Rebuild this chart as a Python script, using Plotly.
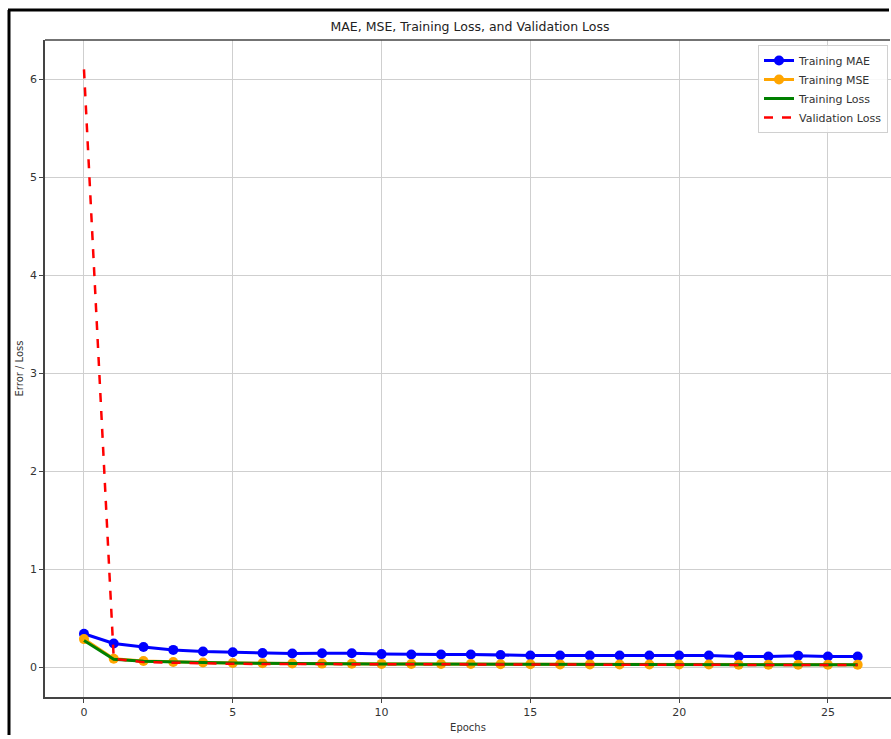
import plotly.graph_objects as go

epochs = list(range(27))
train_mae = [0.34, 0.24, 0.205, 0.175, 0.158, 0.15, 0.142, 0.138, 0.14, 0.14, 0.132, 0.128, 0.128,
             0.128, 0.122, 0.118, 0.118, 0.118, 0.118, 0.118, 0.118, 0.118, 0.108, 0.108, 0.116, 0.108, 0.108]
train_mse = [0.285, 0.085, 0.062, 0.052, 0.046, 0.041, 0.038, 0.036, 0.035, 0.034, 0.032, 0.031, 0.030,
             0.030, 0.029, 0.028, 0.027, 0.027, 0.026, 0.026, 0.025, 0.025, 0.024, 0.024, 0.024, 0.023, 0.023]
train_loss = [0.27, 0.08, 0.06, 0.05, 0.045, 0.04, 0.037, 0.035, 0.034, 0.033, 0.031, 0.030, 0.029,
              0.029, 0.028, 0.027, 0.026, 0.026, 0.025, 0.025, 0.024, 0.024, 0.023, 0.023, 0.023, 0.022, 0.022]
val_loss = [6.1, 0.085, 0.05, 0.042, 0.036, 0.033, 0.031, 0.03, 0.029, 0.028, 0.027, 0.026, 0.026,
            0.025, 0.025, 0.024, 0.024, 0.023, 0.023, 0.022, 0.022, 0.022, 0.021, 0.021, 0.021, 0.02, 0.02]

W, H = 891, 735
L, R, T, B = 45, 0, 40, 38
FONT = "DejaVu Sans"

fig = go.Figure()
fig.add_trace(go.Scatter(x=epochs, y=train_mae, name="Training MAE", mode="lines+markers",
                         line=dict(color="#0000ff", width=3), marker=dict(symbol="circle", size=10, color="#0000ff")))
fig.add_trace(go.Scatter(x=epochs, y=train_mse, name="Training MSE", mode="lines+markers",
                         line=dict(color="#ffa500", width=3), marker=dict(symbol="circle", size=10, color="#ffa500")))
fig.add_trace(go.Scatter(x=epochs, y=train_loss, name="Training Loss", mode="lines",
                         line=dict(color="#008000", width=3)))
fig.add_trace(go.Scatter(x=epochs, y=val_loss, name="Validation Loss", mode="lines",
                         line=dict(color="#ff0000", width=2.5, dash="dash")))

pw = W - L - R
ph = H - T - B
def px(x):
    return (x - L) / pw
def py(y):
    return (H - B - y) / ph

shapes = [
    # outer frame (left and top)
    dict(type="line", xref="paper", yref="paper", x0=px(9), x1=px(9), y0=py(10), y1=py(H),
         line=dict(color="black", width=3)),
    dict(type="line", xref="paper", yref="paper", x0=px(8), x1=px(W - 2), y0=py(10), y1=py(10),
         line=dict(color="black", width=3)),
    # top spine
    dict(type="line", xref="paper", yref="paper", x0=0, x1=px(W - 1), y0=1, y1=1,
         line=dict(color="#444444", width=1.5)),
]

fig.update_layout(
    width=W, height=H,
    margin=dict(l=L, r=R, t=T, b=B, autoexpand=False),
    paper_bgcolor="white", plot_bgcolor="white",
    font=dict(family=FONT, size=11, color="#333333"),
    title=dict(text="MAE, MSE, Training Loss, and Validation Loss", x=470 / W, xanchor="center",
               y=1 - 27 / H, yanchor="middle", font=dict(size=12.5, color="#222222")),
    xaxis=dict(range=[-1.31, 27.12], tickmode="array", tickvals=[0, 5, 10, 15, 20, 25],
               showgrid=True, gridcolor="#cfcfcf", gridwidth=1, zeroline=False,
               showline=True, linecolor="#444444", linewidth=1.5, mirror=False,
               ticks="outside", ticklen=4, tickcolor="#444444",
               title=dict(text="Epochs", font=dict(size=10), standoff=6)),
    yaxis=dict(range=[-0.306, 6.4], tickmode="array", tickvals=[0, 1, 2, 3, 4, 5, 6],
               showgrid=True, gridcolor="#cfcfcf", gridwidth=1, zeroline=False,
               showline=True, linecolor="#444444", linewidth=1.5, mirror=False,
               ticks="outside", ticklen=4, tickcolor="#444444",
               title=dict(text="Error / Loss", font=dict(size=10), standoff=5)),
    legend=dict(x=px(888), y=py(45), xanchor="right", yanchor="top",
                bgcolor="rgba(255,255,255,0.85)", bordercolor="#d0d0d0", borderwidth=1,
                font=dict(size=11), tracegroupgap=0, itemwidth=30),
    showlegend=True,
    shapes=shapes,
)

fig.write_html("out.html")
